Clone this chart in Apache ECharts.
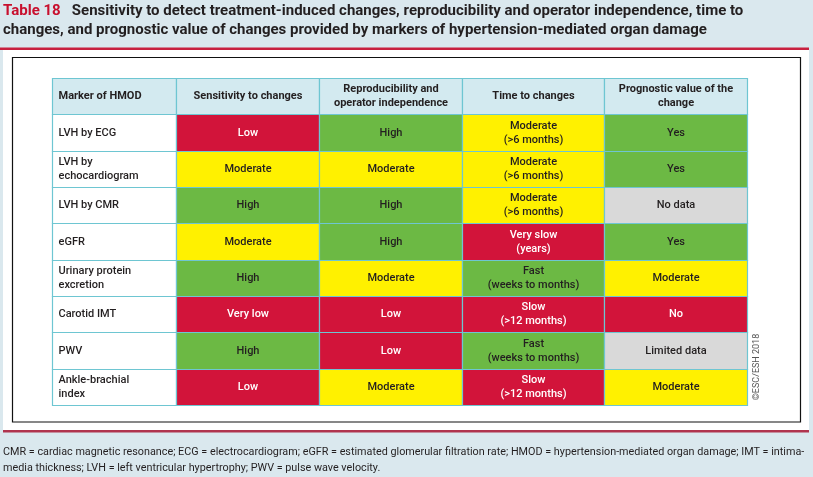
<!DOCTYPE html>
<html><head><meta charset="utf-8">
<script src="https://cdn.jsdelivr.net/npm/echarts@6/dist/echarts.min.js"></script>
<style>html,body{margin:0;padding:0;background:#dae8ee;}#c{width:813px;height:477px;}</style>
</head><body><div id="c"></div>
<script>
const columns = ['Marker of HMOD', 'Sensitivity to changes', 'Reproducibility and\noperator independence', 'Time to changes', 'Prognostic value of the\nchange'];
const markers = ['LVH by ECG', 'LVH by\nechocardiogram', 'LVH by CMR', 'eGFR', 'Urinary protein\nexcretion', 'Carotid IMT', 'PWV', 'Ankle-brachial\nindex'];
const sensitivity = ['Low', 'Moderate', 'High', 'Moderate', 'High', 'Very low', 'High', 'Low'];
const reproducibility = ['High', 'Moderate', 'High', 'High', 'Moderate', 'Low', 'Low', 'Moderate'];
const timeToChanges = ['Moderate\n(>6 months)', 'Moderate\n(>6 months)', 'Moderate\n(>6 months)', 'Very slow\n(years)', 'Fast\n(weeks to months)', 'Slow\n(>12 months)', 'Fast\n(weeks to months)', 'Slow\n(>12 months)'];
const prognostic = ['Yes', 'Yes', 'No data', 'Yes', 'Moderate', 'No', 'Limited data', 'Moderate'];
const rowNames = ['header'].concat(markers);

const RED = '#d2143a', GREEN = '#6cb944', YELLOW = '#fff100', GRAY = '#d9d9d9', HEAD = '#d3eaf0', LINE = '#6ec6d2', INK = '#231f20';
const levelColor = {'Low': RED, 'Very low': RED, 'No': RED, 'Slow': RED, 'Very slow': RED,
  'Moderate': YELLOW, 'High': GREEN, 'Yes': GREEN, 'Fast': GREEN, 'No data': GRAY, 'Limited data': GRAY};

const labelCells = [[0, 0, columns[0], 'head']];
markers.forEach((m, i) => labelCells.push([0, i + 1, m, 'label']));
const valueCells = [];
for (let c = 1; c < 5; c++) valueCells.push([c - 1, 0, columns[c], 'head']);
[sensitivity, reproducibility, timeToChanges, prognostic].forEach((arr, c) => {
  arr.forEach((v, r) => valueCells.push([c, r + 1, v, 'value']));
});

function makeRender(cells, leftAligned) {
  return function (params, api) {
    const cell = cells[params.dataIndex];
    const p = api.coord([api.value(0), api.value(1)]);
    const s = api.size([1, 1]);
    const x0 = Math.round(p[0] - s[0] / 2) + 0.5, y0 = Math.round(p[1] - s[1] / 2) + 0.5;
    const x1 = Math.round(p[0] + s[0] / 2) + 0.5, y1 = Math.round(p[1] + s[1] / 2) + 0.5;
    const kind = cell[3], txt = cell[2];
    let fill = '#ffffff', tcolor = INK, weight = 500;
    if (kind === 'head') { fill = HEAD; weight = 'bold'; }
    if (kind === 'value') { fill = levelColor[txt.split('\n')[0]]; if (fill === RED) tcolor = '#ffffff'; }
    const align = leftAligned ? 'left' : 'center';
    const tx = leftAligned ? x0 + 6 : (x0 + x1) / 2;
    return {
      type: 'group',
      children: [
        {type: 'rect', shape: {x: x0, y: y0, width: x1 - x0, height: y1 - y0},
          style: {fill: fill, stroke: LINE, lineWidth: 1.2}},
        {type: 'text', x: tx, y: (y0 + y1) / 2,
          style: {text: txt, fill: tcolor, align: align, verticalAlign: 'middle',
            font: weight + ' 11px Roboto, "DejaVu Sans", sans-serif', lineHeight: 14}}
      ]
    };
  };
}

const chart = echarts.init(document.getElementById('c'), null, {renderer: 'canvas'});
chart.setOption({
  backgroundColor: '#dae8ee',
  animation: false,
  title: {
    left: 3, top: 2, padding: 0,
    text: '{r|Table 18}   Sensitivity to detect treatment-induced changes, reproducibility and operator independence, time to\nchanges, and prognostic value of changes provided by markers of hypertension-mediated organ damage',
    textStyle: {fontFamily: 'Roboto', fontWeight: 'bold', fontSize: 15, color: INK, lineHeight: 19,
      rich: {r: {color: '#c8102e', fontFamily: 'Roboto', fontWeight: 'bold', fontSize: 15, lineHeight: 19}}}
  },
  graphic: [
    {type: 'rect', z: -10, shape: {x: 3, y: 48, width: 806, height: 384}, style: {fill: '#ffffff'}},
    {type: 'rect', z: -9, shape: {x: 0, y: 47.5, width: 809, height: 2.5}, style: {fill: '#c8203f'}},
    {type: 'rect', z: -9, shape: {x: 3, y: 430, width: 806, height: 2.5}, style: {fill: '#b0344e'}},
    {type: 'rect', z: -8, shape: {x: 12.5, y: 57.5, width: 788, height: 364.5}, style: {fill: 'none', stroke: '#111', lineWidth: 1.2}},
    {type: 'text', z: 5, x: 757, y: 367, rotation: Math.PI / 2, style: {text: '\u00a9ESC/ESH 2018', fill: '#555', font: '9px Roboto, sans-serif', align: 'center', verticalAlign: 'middle'}},
    {type: 'text', z: 5, x: 3, y: 444, style: {text: 'CMR = cardiac magnetic resonance; ECG = electrocardiogram; eGFR = estimated glomerular filtration rate; HMOD = hypertension-mediated organ damage; IMT = intima-\nmedia thickness; LVH = left ventricular hypertrophy; PWV = pulse wave velocity.', fill: INK, font: '10.8px Roboto, sans-serif', lineHeight: 16}}
  ],
  grid: [
    {left: 52, top: 78, width: 124, height: 327},
    {left: 176, top: 78, width: 571, height: 327}
  ],
  xAxis: [
    {gridIndex: 0, type: 'category', data: [columns[0]], show: false},
    {gridIndex: 1, type: 'category', data: columns.slice(1), show: false}
  ],
  yAxis: [
    {gridIndex: 0, type: 'category', data: rowNames, inverse: true, show: false},
    {gridIndex: 1, type: 'category', data: rowNames, inverse: true, show: false}
  ],
  series: [
    {type: 'custom', xAxisIndex: 0, yAxisIndex: 0, data: labelCells.map(c => [c[0], c[1]]), renderItem: makeRender(labelCells, true)},
    {type: 'custom', xAxisIndex: 1, yAxisIndex: 1, data: valueCells.map(c => [c[0], c[1]]), renderItem: makeRender(valueCells, false)}
  ]
});
</script></body></html>
